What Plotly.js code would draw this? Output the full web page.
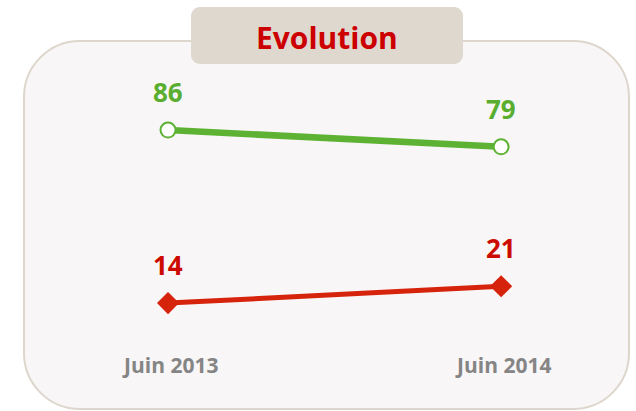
<!DOCTYPE html>
<html>
<head>
<meta charset="utf-8">
<script src="https://cdn.plot.ly/plotly-3.0.1.min.js"></script>
<style>html,body{margin:0;padding:0;background:#fff;}#chart{width:636px;height:411px;}</style>
</head>
<body>
<div id="chart"></div>
<script>
// ---- data ----
var categories = ["Juin 2013", "Juin 2014"];
var seriesGreen = [86, 79];
var seriesRed = [14, 21];
var chartTitle = "Evolution";

// ---- layout helpers ----
var W = 636, H = 411;
function px(x) { return (x / W).toFixed(5); }
function py(y) { return (1 - y / H).toFixed(5); }
function roundRect(x0, y0, x1, y1, r) {
  var k = 0.5523 * r;
  return "M" + px(x0 + r) + "," + py(y0) +
    " L" + px(x1 - r) + "," + py(y0) +
    " C" + px(x1 - r + k) + "," + py(y0) + " " + px(x1) + "," + py(y0 + r - k) + " " + px(x1) + "," + py(y0 + r) +
    " L" + px(x1) + "," + py(y1 - r) +
    " C" + px(x1) + "," + py(y1 - r + k) + " " + px(x1 - r + k) + "," + py(y1) + " " + px(x1 - r) + "," + py(y1) +
    " L" + px(x0 + r) + "," + py(y1) +
    " C" + px(x0 + r - k) + "," + py(y1) + " " + px(x0) + "," + py(y1 - r + k) + " " + px(x0) + "," + py(y1 - r) +
    " L" + px(x0) + "," + py(y0 + r) +
    " C" + px(x0) + "," + py(y0 + r - k) + " " + px(x0 + r - k) + "," + py(y0) + " " + px(x0 + r) + "," + py(y0) + " Z";
}

var xIdx = categories.map(function (c, i) { return i; });
var GREEN = "#5db233", RED = "#d6230c";
var FONT = "Open Sans, sans-serif";

var traces = [
  {
    x: xIdx, y: seriesGreen, type: "scatter", mode: "lines+markers",
    line: { color: GREEN, width: 6.5 },
    marker: { symbol: "circle", size: 15, color: "#ffffff", line: { color: GREEN, width: 2 } },
    hoverinfo: "none", showlegend: false
  },
  {
    x: xIdx, y: seriesRed, type: "scatter", mode: "lines+markers",
    line: { color: RED, width: 5 },
    marker: { symbol: "diamond", size: 17, color: RED, line: { width: 0 } },
    hoverinfo: "none", showlegend: false
  }
];

var annotations = [];
seriesGreen.forEach(function (v, i) {
  annotations.push({ x: i, y: v, xref: "x", yref: "y", text: String(v), showarrow: false, yshift: 38,
    xanchor: "center", yanchor: "middle",
    font: { family: FONT, size: 26, color: "#5aae2f", weight: "bold" } });
});
seriesRed.forEach(function (v, i) {
  annotations.push({ x: i, y: v, xref: "x", yref: "y", text: String(v), showarrow: false, yshift: 38,
    xanchor: "center", yanchor: "middle",
    font: { family: FONT, size: 26, color: "#cc0a00", weight: "bold" } });
});
categories.forEach(function (c, i) {
  annotations.push({ x: i, y: 1 - 365 / H, xref: "x", yref: "paper", text: c, showarrow: false, xshift: 2,
    xanchor: "center", yanchor: "middle",
    font: { family: FONT, size: 21, color: "#858585", weight: "bold" } });
});
annotations.push({ x: 327 / W, y: 1 - 37 / H, xref: "paper", yref: "paper", text: chartTitle, showarrow: false,
  xanchor: "center", yanchor: "middle",
  font: { family: FONT, size: 30, color: "#cc0000", weight: "bold" } });

var layout = {
  width: W, height: H,
  margin: { l: 0, r: 0, t: 0, b: 0, pad: 0 },
  paper_bgcolor: "#ffffff", plot_bgcolor: "rgba(0,0,0,0)",
  xaxis: { range: [-0.5045, 1.405], visible: false, fixedrange: true },
  yaxis: { range: [-30.9, 140.1], visible: false, fixedrange: true },
  shapes: [
    { type: "path", xref: "paper", yref: "paper", layer: "below",
      path: roundRect(24, 41, 629, 409, 56),
      fillcolor: "#f8f6f6", line: { color: "#ddd6cc", width: 2 } },
    { type: "path", xref: "paper", yref: "paper", layer: "below",
      path: roundRect(191, 7, 463, 64, 9),
      fillcolor: "#dfd8ce", line: { width: 0 } }
  ],
  annotations: annotations,
  showlegend: false
};

Plotly.newPlot("chart", traces, layout, { displayModeBar: false, staticPlot: true });
</script>
</body>
</html>
